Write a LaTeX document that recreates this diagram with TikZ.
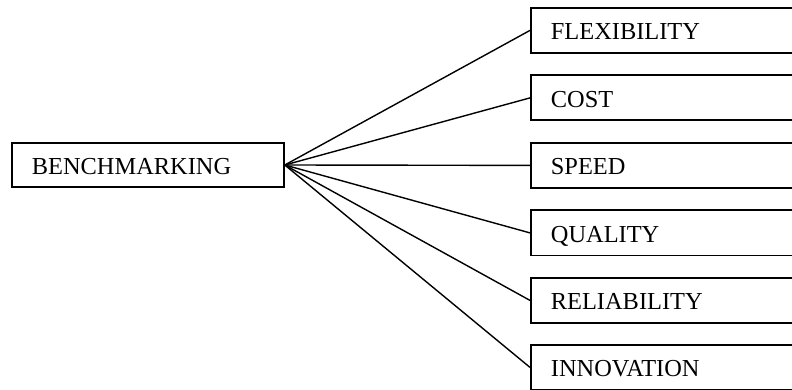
\documentclass[tikz,border=0pt]{standalone}
\usepackage{fontspec}
\setmainfont{Liberation Serif}
\begin{document}
\begin{tikzpicture}[x=1pt,y=-1pt,
  boxbase/.style={draw, line width=1.8pt, rectangle, align=left,
    inner xsep=20pt, inner ysep=0pt, text height=19pt, text depth=0pt,
    minimum height=45pt, font=\fontsize{24.4}{26}\selectfont},
  leftbox/.style={boxbase, text width=232pt, minimum height=44pt},
  rightbox/.style={boxbase, text width=230pt, anchor=north west},
  link/.style={line width=1.4pt}]
  \useasboundingbox (0,0) rectangle (792,390);
  \clip (0,0) rectangle (792,390);
  % central box
  \node[leftbox, anchor=west] (bench) at (11,165) {BENCHMARKING};
  % the six criteria
  \node[rightbox] (flex) at (530,7)     {FLEXIBILITY};
  \node[rightbox] (cost) at (530,74.5)  {COST};
  \node[rightbox] (speed) at (530,142)  {SPEED};
  \node[rightbox] (qual) at (530,209.5) {QUALITY};
  \node[rightbox] (rel) at (530,277)    {RELIABILITY};
  \node[rightbox] (inno) at (530,344)   {INNOVATION};
  % fan of connectors
  \foreach \n in {flex,cost,speed,qual,rel,inno}
    \draw[link] (bench.east) -- (\n.west);
\end{tikzpicture}
\end{document}
